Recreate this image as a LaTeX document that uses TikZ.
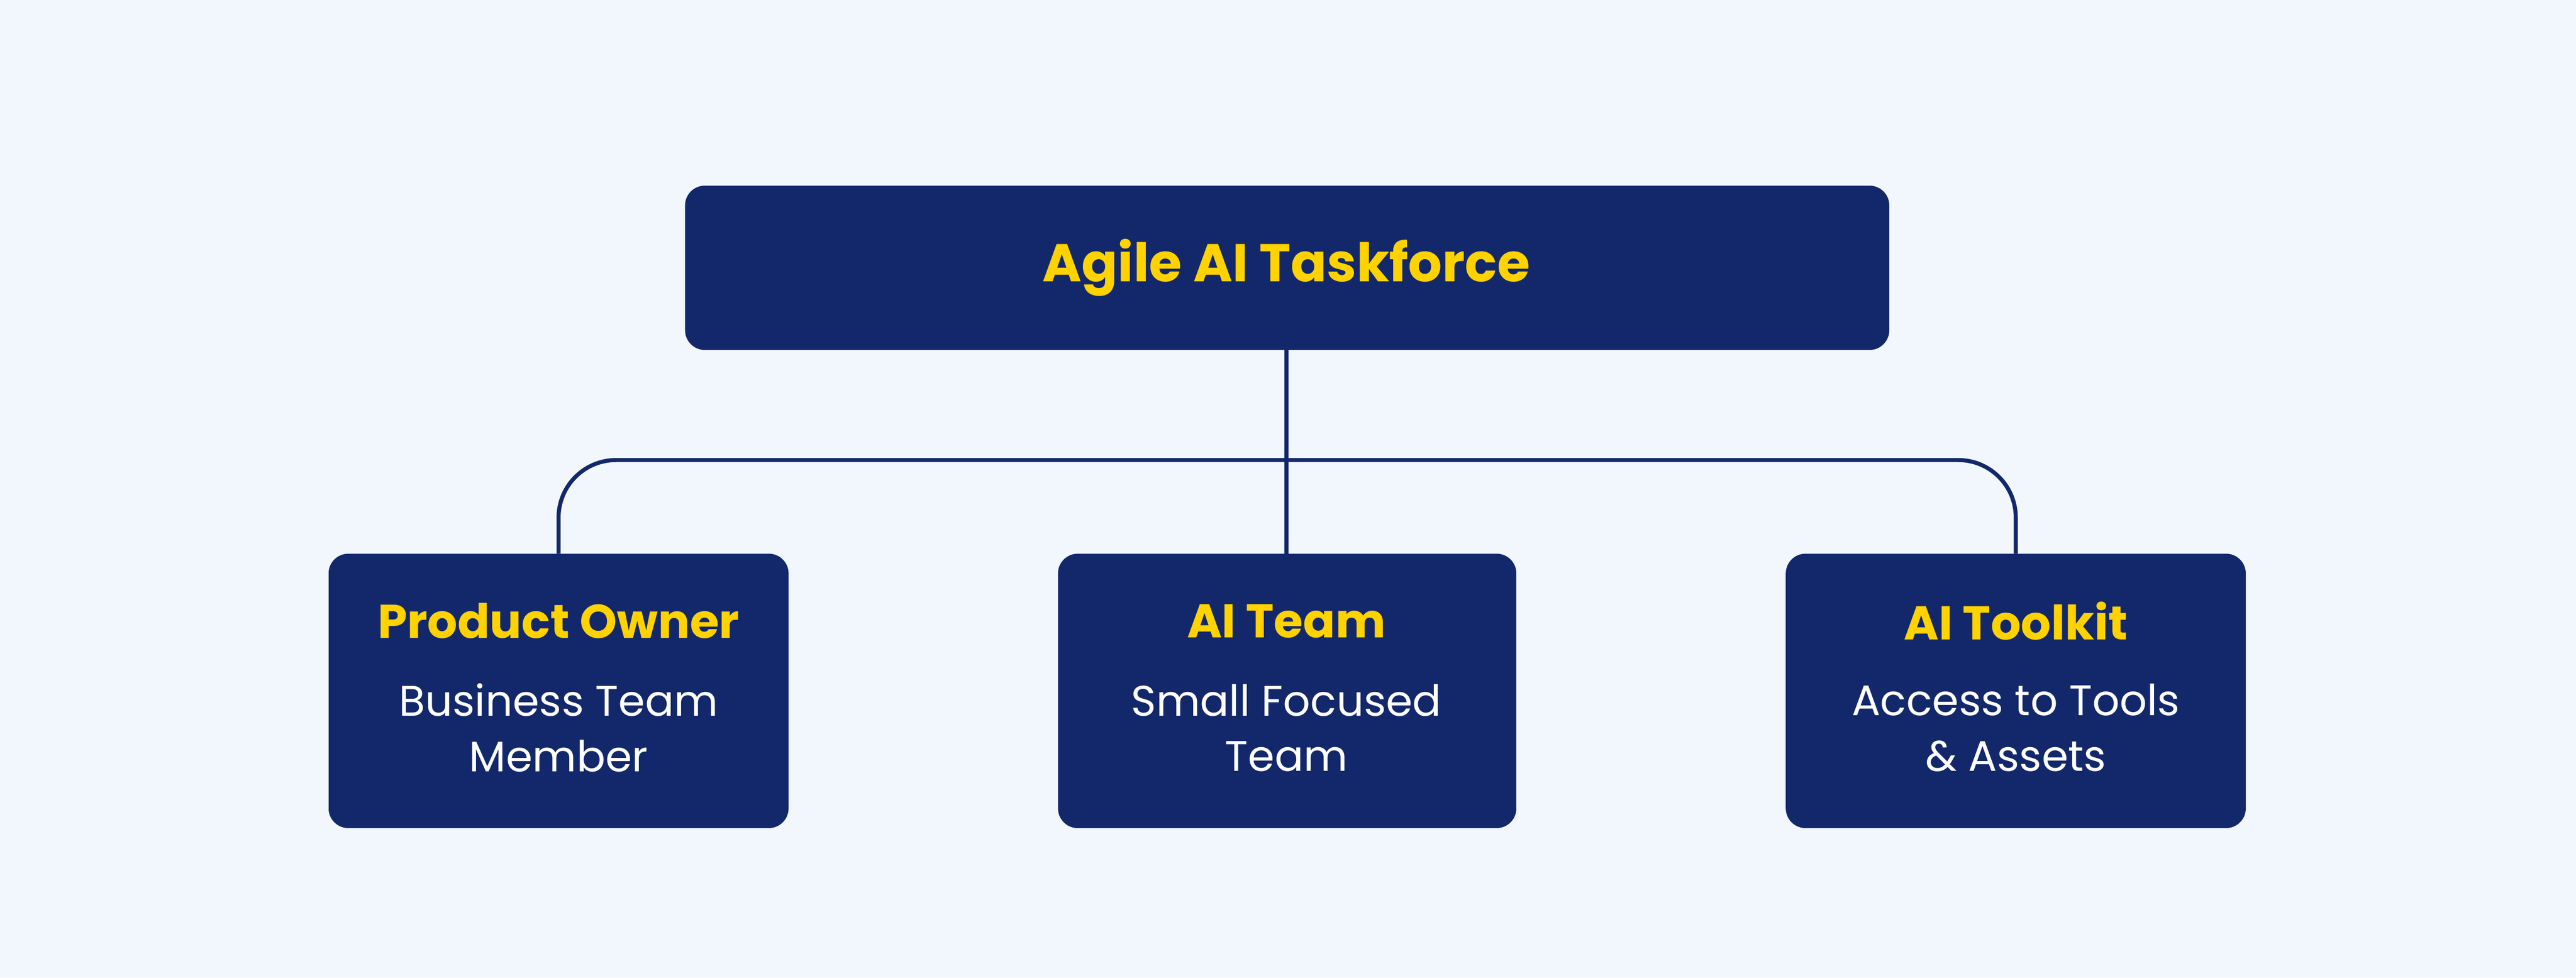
\documentclass[tikz,border=0pt]{standalone}
\usepackage{fontspec}
\setmainfont{Poppins}
\definecolor{bg}{HTML}{F1F7FD}
\definecolor{navy}{HTML}{13286A}
\definecolor{gold}{HTML}{FFD200}
\begin{document}
\begin{tikzpicture}[x=0.01cm,y=-0.01cm,
  box/.style={fill=navy,rounded corners=0.12cm,inner sep=0pt},
  ttl/.style={text=gold,font=\fontsize{9.2}{11}\selectfont\bfseries},
  sub/.style={text=white,font=\fontsize{7.4}{9.6}\selectfont,align=center},
  ln/.style={draw=navy,line width=0.7pt}]
\fill[bg] (0,0) rectangle (1568,595);
\useasboundingbox (0,0) rectangle (1568,595);
\fill[box] (417,113) rectangle (1150,213);
\node[ttl] (top) at (783,163) {Agile AI Taskforce};
\fill[box] (200,337) rectangle (480,504);
\fill[box] (644,337) rectangle (923,504);
\fill[box] (1087,337) rectangle (1367,504);
\coordinate (tb) at (783,213);
\coordinate (l) at (340,337);
\coordinate (m) at (783,337);
\coordinate (r) at (1227,337);
\node[ttl,font=\fontsize{8.2}{10}\selectfont\bfseries] (t1) at (340,378) {Product Owner};
\node[ttl,font=\fontsize{8.2}{10}\selectfont\bfseries] (t2) at (783,378) {AI Team};
\node[ttl,font=\fontsize{8.2}{10}\selectfont\bfseries] (t3) at (1227,378) {AI Toolkit};
\node[sub] (s1) at (340,443) {Business Team\\Member};
\node[sub] (s2) at (783,443) {Small Focused\\Team};
\node[sub] (s3) at (1227,443) {Access to Tools\\\& Assets};
\draw[ln] (tb) -- (m);
\draw[ln,rounded corners=0.35cm] (l) |- (783,280) -| (r);
\end{tikzpicture}
\end{document}
